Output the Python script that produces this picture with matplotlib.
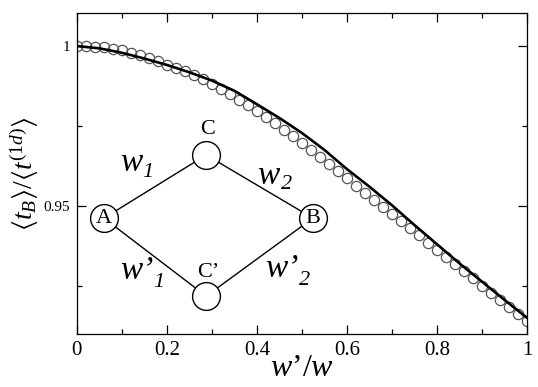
"""Ratio <t_B>/<t^(1d)> versus w'/w, with the two-path network sketch."""

import numpy as np
import matplotlib
matplotlib.use('Agg')
import matplotlib.pyplot as plt

plt.rcParams['font.family'] = ['Liberation Serif', 'DejaVu Serif']
plt.rcParams['mathtext.fontset'] = 'custom'
plt.rcParams['mathtext.rm'] = 'Liberation Serif'
plt.rcParams['mathtext.it'] = 'Liberation Serif:italic'
plt.rcParams['mathtext.bf'] = 'Liberation Serif:bold'
plt.rcParams['mathtext.fallback'] = 'stix'

#########################################################################################
# Data

# open circles: simulation points every 0.02
circ_x = np.round(np.arange(0, 1.0001, 0.02), 2)
circ_y = [1.0000, 0.9999, 0.9998, 0.9996, 0.9992, 0.9987, 0.9980, 0.9972, 0.9962, 0.9952,
          0.9942, 0.9933, 0.9922, 0.9910, 0.9896, 0.9881, 0.9866, 0.9850, 0.9833, 0.9815,
          0.9797, 0.9778, 0.9759, 0.9739, 0.9718, 0.9697, 0.9676, 0.9654, 0.9632, 0.9609,
          0.9587, 0.9564, 0.9541, 0.9520, 0.9498, 0.9475, 0.9453, 0.9430, 0.9408, 0.9386,
          0.9363, 0.9341, 0.9319, 0.9296, 0.9274, 0.9251, 0.9229, 0.9207, 0.9184, 0.9162,
          0.9140]

# solid line: analytic curve
line_x = [0.00, 0.05, 0.10, 0.15, 0.20, 0.25, 0.30, 0.35, 0.40, 0.45, 0.50,
          0.55, 0.60, 0.65, 0.70, 0.75, 0.80, 0.85, 0.90, 0.95, 1.00]
line_y = [1.0000, 0.9993, 0.9979, 0.9961, 0.9941, 0.9918, 0.9892, 0.9860, 0.9818, 0.9775, 0.9728,
          0.9675, 0.9615, 0.9560, 0.9502, 0.9440, 0.9380, 0.9320, 0.9263, 0.9206, 0.9150]

x_ticks = [0, 0.2, 0.4, 0.6, 0.8, 1]
x_tick_labels = ['0', '0.2', '0.4', '0.6', '0.8', '1']
y_ticks = [0.95, 1.0]
y_tick_labels = ['0.95', '1']

#########################################################################################

fig = plt.figure(figsize=(5.38, 3.87), dpi=100)
ax = fig.add_axes([0.143, 0.137, 0.837, 0.829])

# line and points
ax.plot(line_x, line_y, color='black', lw=1.9, zorder=3)
ax.plot(circ_x, circ_y, 'o', ms=7.4, mfc='none', mec='#555555', mew=0.9, zorder=2)

ax.set_xlim(0, 1)
ax.set_ylim(0.91, 1.0103)

ax.set_xticks(x_ticks)
ax.set_xticklabels(x_tick_labels, fontsize=15)
ax.set_xticks(np.arange(0.1, 1, 0.2), minor=True)
ax.set_yticks(y_ticks)
ax.set_yticklabels(y_tick_labels, fontsize=11)
ax.set_yticks([0.925, 0.975], minor=True)
ax.tick_params(which='both', direction='in', top=True, right=True, width=0.9)
ax.tick_params(which='major', length=6.5, pad=5)
ax.tick_params(which='minor', length=3.5)
for s in ax.spines.values():
    s.set_linewidth(0.9)

ax.set_xlabel(r"$w$’$/w$", fontsize=23, labelpad=-4)
ax.set_ylabel(r"$\langle t_B\rangle/\langle t^{(1d)}\rangle$", fontsize=20, labelpad=2)

# Network sketch (axes coordinates)
nodes = {'A': (0.060, 0.361), 'C': (0.287, 0.558), 'B': (0.524, 0.361), "C'": (0.287, 0.118)}
for a, b in [('A', 'C'), ('C', 'B'), ('A', "C'"), ("C'", 'B')]:
    ax.plot([nodes[a][0], nodes[b][0]], [nodes[a][1], nodes[b][1]], color='black',
            lw=1.0, transform=ax.transAxes, zorder=4)
for n, (nx, ny) in nodes.items():
    ax.plot(nx, ny, 'o', ms=20, mfc='white', mec='black', mew=1.0,
            transform=ax.transAxes, zorder=5)

ax.text(*nodes['A'], 'A', fontsize=16, ha='center', va='center', transform=ax.transAxes, zorder=6)
ax.text(*nodes['B'], 'B', fontsize=16, ha='center', va='center', transform=ax.transAxes, zorder=6)
ax.text(0.291, 0.636, 'C', fontsize=16, ha='center', va='center', transform=ax.transAxes)
ax.text(0.291, 0.193, 'C’', fontsize=16, ha='center', va='center', transform=ax.transAxes)


def rate_label(x, y, main, sub, dx, dy):
    """Italic rate name with an italic subscript placed by hand."""
    ax.text(x, y, main, fontsize=24, fontstyle='italic', ha='left', va='center',
            transform=ax.transAxes)
    ax.annotate(sub, xy=(x, y), xycoords='axes fraction', xytext=(dx, dy),
                textcoords='offset points', fontsize=16, fontstyle='italic',
                ha='left', va='center')


rate_label(0.095, 0.535, 'w', '1', 16, -7)
rate_label(0.400, 0.492, 'w', '2', 17, -6)
rate_label(0.095, 0.196, 'w’', '1', 24, -8)
rate_label(0.418, 0.202, 'w’', '2', 24, -8)

plt.savefig('out.png', dpi=100)
